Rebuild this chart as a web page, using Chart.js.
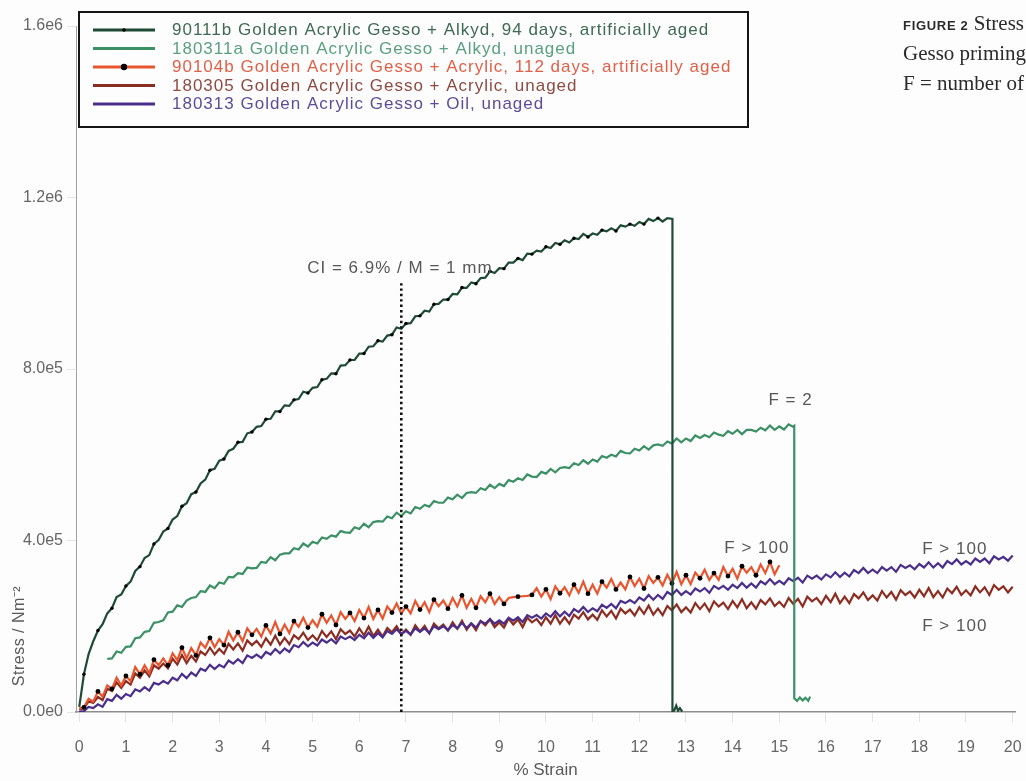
<!DOCTYPE html>
<html>
<head>
<meta charset="utf-8">
<script src="https://cdn.jsdelivr.net/npm/chart.js@4.4.1/dist/chart.umd.min.js"></script>
<style>
  html, body { margin: 0; padding: 0; background: #fdfdfd; overflow: hidden; }
  #wrap { position: relative; width: 1026px; height: 781px; overflow: hidden; background: #fdfdfd; }
  #wrap canvas { position: absolute; left: 0; top: 0; }
  .cap { position: absolute; left: 903px; white-space: nowrap; font-family: "Liberation Serif", serif;
         font-size: 21px; color: #2b2b2b; line-height: 24px; }
  .cap b { font-family: "Liberation Sans", Arial, sans-serif; font-size: 13px; font-weight: bold; letter-spacing: 0.7px; }
</style>
</head>
<body>
<div id="wrap">
  <canvas id="chart" width="1026" height="781"></canvas>
  <div class="cap" style="top:11px"><b>FIGURE 2</b> Stress</div>
  <div class="cap" style="top:41px">Gesso priming</div>
  <div class="cap" style="top:71px">F = number of</div>
</div>
<script>
// Strain grid (%), shared by all samples
const strain = [
  0,0.1,0.2,0.3,0.4,0.5,0.6,0.7,0.8,0.9,
  1,1.1,1.2,1.3,1.4,1.5,1.6,1.7,1.8,1.9,
  2,2.1,2.2,2.3,2.4,2.5,2.6,2.7,2.8,2.9,
  3,3.1,3.2,3.3,3.4,3.5,3.6,3.7,3.8,3.9,
  4,4.1,4.2,4.3,4.4,4.5,4.6,4.7,4.8,4.9,
  5,5.1,5.2,5.3,5.4,5.5,5.6,5.7,5.8,5.9,
  6,6.1,6.2,6.3,6.4,6.5,6.6,6.7,6.8,6.9,
  7,7.1,7.2,7.3,7.4,7.5,7.6,7.7,7.8,7.9,
  8,8.1,8.2,8.3,8.4,8.5,8.6,8.7,8.8,8.9,
  9,9.1,9.2,9.3,9.4,9.5,9.6,9.7,9.8,9.9,
  10,10.1,10.2,10.3,10.4,10.5,10.6,10.7,10.8,10.9,
  11,11.1,11.2,11.3,11.4,11.5,11.6,11.7,11.8,11.9,
  12,12.1,12.2,12.3,12.4,12.5,12.6,12.7,12.8,12.9,
  13,13.1,13.2,13.3,13.4,13.5,13.6,13.7,13.8,13.9,
  14,14.1,14.2,14.3,14.4,14.5,14.6,14.7,14.8,14.9,
  15,15.1,15.2,15.3,15.4,15.5,15.6,15.7,15.8,15.9,
  16,16.1,16.2,16.3,16.4,16.5,16.6,16.7,16.8,16.9,
  17,17.1,17.2,17.3,17.4,17.5,17.6,17.7,17.8,17.9,
  18,18.1,18.2,18.3,18.4,18.5,18.6,18.7,18.8,18.9,
  19,19.1,19.2,19.3,19.4,19.5,19.6,19.7,19.8,19.9,
  20
];

// Stress values in kN/m² (converted to N/m² when plotted)
// 90111b: strain 0 – 12.6
const s90111b = [
  12,88,135,165,190,205,230,242,268,274,
  294,304,329,339,359,366,392,401,421,428,
  449,457,480,487,508,513,533,542,564,567,
  586,590,609,614,629,630,650,653,665,667,
  683,684,701,701,715,714,728,730,747,744,
  756,758,775,777,790,789,808,809,821,821,
  836,836,852,853,866,864,878,880,897,894,
  906,907,923,924,936,934,951,952,962,962,
  975,974,990,989,1002,999,1012,1013,1028,1024,
  1035,1034,1048,1048,1058,1054,1069,1068,1076,1074,
  1085,1082,1094,1091,1100,1095,1105,1103,1115,1108,
  1116,1113,1124,1121,1128,1122,1135,1132,1138,1134,
  1143,1138,1150,1145,1152,1144,1152
];
// failure of 90111b
const s90111bFailStrain = [12.71, 12.71, 12.75, 12.79, 12.83, 12.87, 12.92];
const s90111bFailStress = [1150, 0, 4, 15, 3, 9, 1];

// 180311a: strain 0.6 – 15.3
const s180311aStart = 6; // index into strain[]
const s180311a = [
  124,125,141,138,
  152,153,172,174,187,189,208,210,214,232,
  234,249,245,260,266,268,282,280,295,289,
  302,299,315,314,324,322,337,335,336,350,
  348,361,354,367,370,370,382,379,393,386,
  397,393,407,404,412,409,422,419,418,431,
  427,439,431,443,445,444,456,452,465,457,
  468,463,478,474,483,479,492,488,488,500,
  496,507,499,511,513,511,522,518,530,522,
  532,527,541,537,545,541,554,549,548,560,
  556,567,559,569,571,569,580,576,587,579,
  589,584,597,593,600,596,609,604,603,614,
  610,620,612,622,624,621,631,626,638,629,
  638,632,645,639,646,641,652,647,644,655,
  649,658,648,658,658,654,663,657,668,658,
  666,659,671,665
];
const s180311aFailStrain = [15.32, 15.32, 15.38, 15.44, 15.5, 15.56, 15.62, 15.66];
const s180311aFailStress = [667, 32, 26, 34, 27, 33, 26, 36];

// 90104b: strain 0 – 15.0
const s90104b = [
  8,11,31,24,48,36,62,54,80,62,
  84,72,105,88,109,90,122,109,125,109,
  137,121,150,125,149,132,162,150,173,151,
  170,156,187,167,186,165,195,180,194,176,
  202,183,210,182,204,184,212,199,220,197,
  214,199,228,208,225,203,233,217,231,212,
  238,219,245,217,238,218,246,232,253,229,
  246,230,259,239,256,233,262,247,260,241,
  266,246,272,243,264,243,270,256,276,252,
  268,252,266,268,269,270,271,273,289,269,
  286,263,293,277,291,272,297,278,304,276,
  297,276,304,290,310,286,302,286,315,294,
  311,288,317,301,314,295,320,300,327,298,
  319,298,325,312,332,308,324,308,338,317,
  334,311,340,325,338,319,344,324,350,321,
  342
];

// 180305: strain 0 – 20
const s180305 = [
  5,9,25,21,35,28,54,49,69,56,
  72,64,90,80,97,83,109,101,113,102,
  124,111,133,114,131,118,141,133,150,134,
  147,136,159,146,160,143,167,156,166,152,
  172,157,178,157,173,158,179,170,185,168,
  179,167,189,175,188,170,193,182,190,176,
  195,179,199,177,192,176,196,186,200,182,
  192,180,202,188,201,183,206,195,204,190,
  209,194,213,192,206,191,212,202,216,198,
  209,197,218,204,216,198,220,209,217,203,
  221,206,226,206,221,206,227,218,233,216,
  227,215,237,223,236,218,241,230,239,225,
  244,229,248,227,241,226,247,237,251,233,
  244,232,254,240,253,235,258,246,255,240,
  259,244,263,242,256,241,261,251,265,247,
  257,245,266,252,264,246,269,258,266,252,
  271,256,276,254,269,254,275,265,279,261,
  272,260,282,267,280,262,284,273,281,267,
  285,270,289,268,282,267,288,277,292,273,
  284,272,293,279,291,273,296,285,293,279,
  292
];

// 180313: strain 0 – 20
const s180313 = [
  0,2,12,9,18,12,30,26,40,31,
  42,37,53,48,58,50,68,64,72,66,
  80,74,89,79,92,84,101,96,110,100,
  110,104,120,113,123,114,132,126,134,126,
  140,134,147,137,148,140,156,151,163,153,
  162,155,169,162,170,160,176,170,176,168,
  180,172,185,173,184,174,189,182,193,181,
  189,181,195,187,195,184,200,193,200,191,
  203,195,208,196,207,197,212,206,217,206,
  214,206,220,213,221,210,226,220,226,218,
  230,222,235,223,234,224,240,233,245,233,
  242,235,250,243,252,242,259,254,261,254,
  267,260,273,262,273,264,280,273,285,273,
  282,274,288,281,289,278,294,287,294,285,
  297,289,301,290,300,290,305,298,310,298,
  306,298,312,305,313,302,318,311,318,309,
  321,314,326,315,325,316,331,324,336,324,
  332,324,338,330,338,327,343,336,342,333,
  345,337,349,337,347,337,352,345,356,344,
  352,344,358,350,358,347,363,356,362,353,
  365
];

// Crack-initiation marker (strain %, stress kN/m²)
const ciStrain = 6.9;
const ciTop = 1000;

const seriesLabels = [
  '90111b Golden Acrylic Gesso + Alkyd, 94 days, artificially aged',
  '180311a Golden Acrylic Gesso + Alkyd, unaged',
  '90104b Golden Acrylic Gesso + Acrylic, 112 days, artificially aged',
  '180305 Golden Acrylic Gesso + Acrylic, unaged',
  '180313 Golden Acrylic Gesso + Oil, unaged'
];

const xTickValues = [0,1,2,3,4,5,6,7,8,9,10,11,12,13,14,15,16,17,18,19,20];
const xTickLabels = ['0','1','2','3','4','5','6','7','8','9','10','11','12','13','14','15','16','17','18','19','20'];
const yTickValues = [0, 400000, 800000, 1200000, 1600000];
const yTickLabels = ['0.0e0', '4.0e5', '8.0e5', '1.2e6', '1.6e6'];

const xTitle = '% Strain';
const yTitle = 'Stress / Nm\u207B\u00B2';

// Text notes placed in data coordinates (strain %, stress kN/m²)
const noteText   = ['CI = 6.9% / M = 1 mm', 'F = 2', 'F > 100', 'F > 100', 'F > 100'];
const noteStrain = [6.87, 15.24, 14.52, 18.76, 18.76];
const noteStress = [1035, 728, 382, 380, 200];

// ---- styling ----
const SANS = '"Liberation Sans", Arial, Helvetica, sans-serif';
const lineColors = ['#1f4b36', '#3b9066', '#e8552f', '#8c2d22', '#4a2e8c'];
const textColors = ['#3e6954', '#5aa080', '#e25f47', '#8e4a40', '#5d4c97'];
const KN = 1000;

function toPoints(xs, ys) {
  return ys.map((v, i) => ({ x: xs[i], y: v * KN }));
}

const dataA = toPoints(strain, s90111b).concat(toPoints(s90111bFailStrain, s90111bFailStress));
const dataB = toPoints(strain.slice(s180311aStart), s180311a).concat(toPoints(s180311aFailStrain, s180311aFailStress));
const dataC = toPoints(strain, s90104b);
const dataD = toPoints(strain, s180305);
const dataE = toPoints(strain, s180313);

function markerRadius(r, count) {
  return ctx => (ctx.dataIndex < count && ctx.dataIndex % 3 === 1) ? r : 0;
}

const overlay = {
  id: 'overlay',
  afterDraw(chart) {
    const { ctx, scales: { x, y } } = chart;

    // notes
    ctx.save();
    ctx.font = '17px ' + SANS;
    ctx.letterSpacing = '1px';
    ctx.fillStyle = '#575757';
    ctx.textAlign = 'center';
    ctx.textBaseline = 'middle';
    noteText.forEach((t, i) => {
      ctx.fillText(t, x.getPixelForValue(noteStrain[i]), y.getPixelForValue(noteStress[i] * KN));
    });
    ctx.restore();

    // vertical axis title
    ctx.save();
    ctx.font = '16px ' + SANS;
    ctx.letterSpacing = '0.5px';
    ctx.fillStyle = '#5a5a5a';
    ctx.textAlign = 'center';
    ctx.textBaseline = 'middle';
    ctx.translate(20, 636);
    ctx.rotate(-Math.PI / 2);
    ctx.fillText(yTitle, 0, 0);
    ctx.restore();

    // legend box
    ctx.save();
    ctx.fillStyle = '#fdfdfd';
    ctx.fillRect(79, 12, 669, 115);
    ctx.lineWidth = 2;
    ctx.strokeStyle = '#151515';
    ctx.strokeRect(79, 12, 669, 115);
    ctx.font = '17px ' + SANS;
    ctx.letterSpacing = '1px';
    ctx.textAlign = 'left';
    ctx.textBaseline = 'middle';
    seriesLabels.forEach((label, i) => {
      const ry = 30 + i * 18.5;
      ctx.strokeStyle = lineColors[i];
      ctx.lineWidth = 3;
      ctx.beginPath();
      ctx.moveTo(93, ry);
      ctx.lineTo(155, ry);
      ctx.stroke();
      if (i === 0 || i === 2) {
        ctx.fillStyle = '#000';
        ctx.beginPath();
        ctx.arc(124, ry, i === 0 ? 1.8 : 3.2, 0, Math.PI * 2);
        ctx.fill();
      }
      ctx.fillStyle = textColors[i];
      ctx.fillText(label, 172, ry + 0.5);
    });
    ctx.restore();
  }
};

new Chart(document.getElementById('chart'), {
  type: 'line',
  data: {
    datasets: [
      { label: 'CI', data: [{ x: ciStrain, y: 0 }, { x: ciStrain, y: ciTop * KN }],
        borderColor: '#111', borderWidth: 2.6, borderDash: [2.4, 3], pointRadius: 0, order: 0 },
      { label: seriesLabels[0], data: dataA, borderColor: lineColors[0], borderWidth: 2.2,
        pointRadius: markerRadius(1.7, s90111b.length), pointBackgroundColor: '#000', pointBorderWidth: 0, order: 1 },
      { label: seriesLabels[1], data: dataB, borderColor: lineColors[1], borderWidth: 2.2,
        pointRadius: 0, order: 2 },
      { label: seriesLabels[2], data: dataC, borderColor: lineColors[2], borderWidth: 2.2,
        pointRadius: markerRadius(2.4, s90104b.length), pointBackgroundColor: '#000', pointBorderWidth: 0, order: 3 },
      { label: seriesLabels[3], data: dataD, borderColor: lineColors[3], borderWidth: 2.2,
        pointRadius: 0, order: 5 },
      { label: seriesLabels[4], data: dataE, borderColor: lineColors[4], borderWidth: 2.2,
        pointRadius: 0, order: 4 }
    ]
  },
  options: {
    responsive: false,
    animation: false,
    devicePixelRatio: 1,
    layout: { padding: { left: 0, right: 11, top: 26, bottom: 0 } },
    elements: { line: { tension: 0, fill: false }, point: { hoverRadius: 0, hitRadius: 0 } },
    plugins: { legend: { display: false }, tooltip: { enabled: false } },
    events: [],
    scales: {
      x: {
        type: 'linear', min: -0.07, max: 20.05,
        afterBuildTicks: s => { s.ticks = xTickValues.map(v => ({ value: v })); },
        afterFit: s => { s.height = 69; s.paddingLeft = 0; s.paddingRight = 0; },
        grid: { drawOnChartArea: false, drawTicks: true, tickLength: 10, tickColor: '#e4e4e4', tickWidth: 1 },
        border: { display: true, color: '#8d8d8d', width: 1.5 },
        ticks: { autoSkip: false, maxRotation: 0, padding: 16, color: '#666',
                 font: { family: SANS, size: 16 }, callback: (v, i) => xTickLabels[i] },
        title: { display: true, text: xTitle, color: '#5a5a5a', font: { family: SANS, size: 17 },
                 padding: { top: 0, bottom: 0 } }
      },
      y: {
        type: 'linear', min: 0, max: 1600000,
        afterBuildTicks: s => { s.ticks = yTickValues.map(v => ({ value: v })); },
        afterFit: s => { s.width = 76; s.paddingTop = 0; s.paddingBottom = 0; },
        grid: { drawOnChartArea: false, drawTicks: true, tickLength: 9, tickColor: '#e4e4e4', tickWidth: 1 },
        border: { display: true, color: '#a0a0a0', width: 1 },
        ticks: { padding: 4, color: '#666', font: { family: SANS, size: 16 },
                 callback: (v, i) => yTickLabels[i] }
      }
    }
  },
  plugins: [overlay]
});
</script>
</body>
</html>
